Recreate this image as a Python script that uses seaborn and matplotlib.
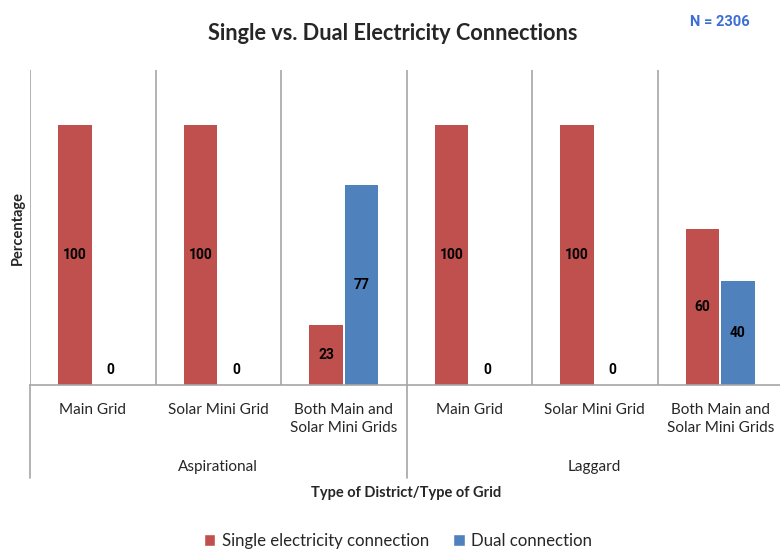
import matplotlib
matplotlib.use("Agg")
import matplotlib.pyplot as plt
import matplotlib.transforms as mtransforms
from matplotlib.patches import Patch
import numpy as np
import pandas as pd
import seaborn as sns

# ---- data -------------------------------------------------------------
districts = ["Aspirational", "Aspirational", "Aspirational",
             "Laggard", "Laggard", "Laggard"]
grid_types = ["Main Grid", "Solar Mini Grid", "Both Main and\nSolar Mini Grids",
              "Main Grid", "Solar Mini Grid", "Both Main and\nSolar Mini Grids"]
single_conn = [100, 100, 23, 100, 100, 60]
dual_conn = [0, 0, 77, 0, 0, 40]
series_names = ["Single electricity connection", "Dual connection"]
group_names = ["Aspirational", "Laggard"]

RED = "#C0504D"
BLUE = "#4F81BD"
LINE = "#A6A6A6"

keys = [f"{d}|{g}" for d, g in zip(districts, grid_types)]
df = pd.DataFrame({
    "key": keys * 2,
    "value": single_conn + dual_conn,
    "series": [series_names[0]] * len(keys) + [series_names[1]] * len(keys),
})

sns.set_theme(style="white")
plt.rcParams["font.family"] = ["Lato", "DejaVu Sans"]

fig = plt.figure(figsize=(7.8, 5.5), dpi=100)
ax = fig.add_axes([30 / 780, 1 - 385 / 550, 753 / 780, 315 / 550])

sns.barplot(data=df, x="key", y="value", hue="series", order=keys,
            hue_order=series_names, palette=[RED, BLUE], width=0.56, gap=0.05,
            saturation=1, legend=False, ax=ax, edgecolor="none")

ax.set_xlim(-0.5, len(keys) - 0.5)
ax.set_ylim(0, 121)
ax.set_xticks([])
ax.set_yticks([])
ax.set_xlabel("")
ax.set_ylabel("")
for side in ["top", "right", "left"]:
    ax.spines[side].set_visible(False)
ax.spines["bottom"].set_color(LINE)
ax.spines["bottom"].set_linewidth(1.2)

# category dividers inside the plot
for b in np.arange(-0.5, len(keys), 1.0):
    ax.axvline(b, color=LINE, lw=1.2, zorder=0)

# group dividers extending below the axis
trans = mtransforms.blended_transform_factory(ax.transData, ax.transAxes)
for b in [-0.5, 2.5, 5.5]:
    ax.plot([b, b], [0, -0.295], transform=trans, color=LINE, lw=1.2,
            clip_on=False)

# value labels centred in each bar
for cont in ax.containers:
    for patch in cont.patches:
        h = patch.get_height()
        xc = patch.get_x() + patch.get_width() / 2
        yc = h / 2 if h > 0 else 5.8
        ax.text(xc, yc, f"{h:.0f}", ha="center", va="center",
                fontsize=10, fontweight="bold", color="black",
                family=["Roboto", "DejaVu Sans"])

# category and group labels
for i, g in enumerate(grid_types):
    ax.text(i, -0.058, g, transform=trans, ha="center", va="top",
            fontsize=11, color="#262626", linespacing=1.35)
for gi, gname in enumerate(group_names):
    ax.text(gi * 3 + 1, -0.26, gname, transform=trans, ha="center",
            va="center", fontsize=11, color="#262626")

fig.text(406 / 780, 1 - 493 / 550, "Type of District/Type of Grid",
         ha="center", va="center", fontsize=10.5, fontweight="bold")
fig.text(18 / 780, 1 - 228 / 550, "Percentage", rotation=90,
         ha="center", va="center", fontsize=10.5, fontweight="bold")

fig.text(393 / 780, 1 - 34 / 550, "Single vs. Dual Electricity Connections",
         ha="center", va="center", fontsize=15.7, fontweight="bold")
fig.text(720 / 780, 1 - 22 / 550, "N = 2306", ha="center", va="center",
         fontsize=10.5, fontweight="bold", color="#3B6FD4",
         family=["Roboto", "DejaVu Sans"])

handles = [Patch(facecolor=RED), Patch(facecolor=BLUE)]
fig.legend(handles, series_names, loc="center", ncol=2,
           bbox_to_anchor=(398 / 780, 1 - 541 / 550), frameon=False,
           fontsize=12.1, handlelength=0.7, handleheight=0.7,
           handletextpad=0.4, columnspacing=1.4)

fig.savefig("out.png", dpi=100)
